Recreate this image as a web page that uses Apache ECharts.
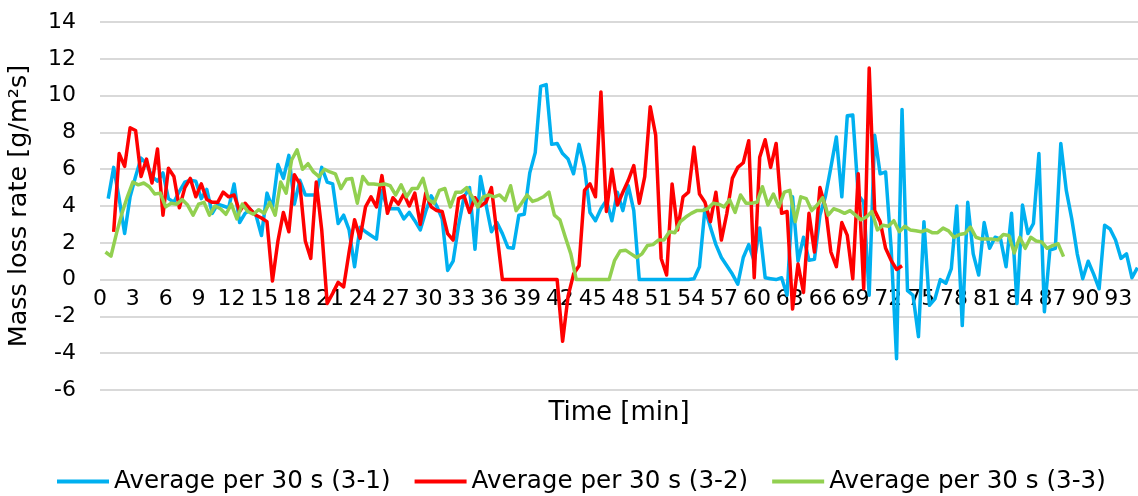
<!DOCTYPE html>
<html><head><meta charset="utf-8">
<script src="https://cdn.jsdelivr.net/npm/echarts@6/dist/echarts.min.js"></script>
<style>html,body{margin:0;padding:0;background:#fff}#c{width:1138px;height:496px}</style>
</head><body><div id="c"></div>
<script>
// Sampling: averages every 30 s (0.5 min)
const sampleStep = 0.5;
const start31 = 0.75;   // first sample time [min] of (3-1)
const start32 = 1.25;   // first sample time [min] of (3-2)
const start33 = 0.5;    // first sample time [min] of (3-3)

const seriesNames = ["Average per 30 s (3-1)", "Average per 30 s (3-2)", "Average per 30 s (3-3)"];

const rate31 = [
 4.4, 6.1, 4.4, 2.5, 4.5, 5.6, 6.6, 6.3, 5.6, 5.35,
 5.8, 4.4, 4.2, 4.8, 5.3, 5.4, 5.35, 4.4, 4.9, 3.6,
 4.1, 4.0, 3.9, 5.2, 3.1, 3.6, 3.8, 3.5, 2.4, 4.7,
 3.9, 6.25, 5.5, 6.75, 4.1, 5.4, 4.6, 4.6, 4.6, 6.1,
 5.3, 5.2, 3.05, 3.5, 2.7, 0.7, 2.85, 2.6, 2.4, 2.2,
 4.85, 3.85, 3.85, 3.85, 3.3, 3.65, 3.2, 2.7, 3.7, 4.55,
 4.0, 3.3, 0.5, 1.0, 2.95, 4.5, 5.0, 1.65, 5.6, 4.1,
 2.6, 3.1, 2.5, 1.75, 1.7, 3.5, 3.55, 5.8, 6.9, 10.5,
 10.6, 7.35, 7.4, 6.85, 6.55, 5.75, 7.35, 6.1, 3.65, 3.2,
 3.85, 4.3, 3.2, 4.75, 3.75, 5.1, 3.75, 0, 0, 0,
 0, 0, 0, 0, 0, 0, 0, 0.05, 0.7, 3.85,
 2.85, 1.9, 1.2, 0.75, 0.3, -0.25, 1.2, 1.9, 1.0, 2.8,
 0.1, 0.05, 0.0, 0.1, -0.85, 4.5, 1.0, 2.3, 1.05, 1.1,
 3.5, 4.5, 6.1, 7.75, 4.5, 8.9, 8.95, 4.6, 4.2, -0.85,
 7.85, 5.75, 5.85, 1.75, -4.3, 9.25, -0.6, -0.85, -3.1, 3.15,
 -1.4, -1.05, 0.0, -0.2, 0.6, 4.0, -2.5, 4.2, 1.4, 0.25,
 3.1, 1.7, 2.3, 2.2, 0.7, 3.6, -1.3, 4.05, 2.5, 3.05,
 6.85, -1.75, 1.6, 1.7, 7.4, 4.85, 3.3, 1.4, 0.05, 1.0,
 0.3, -0.5, 2.95, 2.75, 2.15, 1.15, 1.4, 0.1, 0.65
];

const rate32 = [
 2.6, 6.85, 6.15, 8.25, 8.1, 5.6, 6.55, 5.25, 7.1, 3.5,
 6.05, 5.6, 3.9, 5.0, 5.5, 4.5, 5.2, 4.35, 4.2, 4.2,
 4.75, 4.5, 4.6, 3.7, 4.15, 3.8, 3.5, 3.35, 3.15, -0.08,
 2.1, 3.65, 2.6, 5.7, 5.2, 2.1, 1.15, 5.3, 2.7, -1.3,
 -0.75, -0.15, -0.4, 1.5, 3.25, 2.25, 3.95, 4.5, 3.95, 5.65,
 3.6, 4.45, 4.1, 4.65, 4.0, 4.7, 3.0, 4.7, 3.95, 3.75,
 3.7, 2.5, 2.15, 4.4, 4.55, 3.65, 4.45, 4.0, 4.2, 5.0,
 2.5, 0, 0, 0, 0, 0, 0, 0, 0, 0,
 0, 0, -3.35, -0.9, 0.3, 0.75, 4.85, 5.2, 4.5, 10.2,
 3.7, 6.0, 4.05, 4.75, 5.4, 6.2, 4.15, 5.6, 9.4, 7.85,
 1.15, 0.25, 5.2, 2.7, 4.5, 4.75, 7.2, 4.65, 4.2, 3.15,
 4.75, 2.15, 3.6, 5.5, 6.1, 6.35, 7.55, 0.1, 6.65, 7.6,
 6.1, 7.4, 3.6, 3.7, -1.6, 0.85, -0.7, 3.6, 1.5, 5.0,
 3.95, 1.5, 0.7, 3.1, 2.4, 0.05, 5.75, -0.5, 11.5, 3.75,
 3.15, 1.7, 1.05, 0.55, 0.75
];

const rate33 = [
 1.5, 1.27, 2.5, 3.6, 4.5, 5.3, 5.15, 5.25, 5.05, 4.65,
 4.7, 3.95, 4.15, 4.1, 4.35, 4.05, 3.5, 4.1, 4.2, 3.5,
 4.0, 3.85, 3.55, 4.1, 3.3, 4.1, 3.7, 3.55, 3.8, 3.6,
 4.2, 3.5, 5.3, 4.7, 6.5, 7.05, 6.0, 6.3, 5.85, 5.6,
 6.0, 5.85, 5.75, 4.95, 5.45, 5.5, 4.15, 5.6, 5.2, 5.2,
 5.15, 5.2, 5.1, 4.6, 5.15, 4.5, 4.95, 4.95, 5.5, 4.35,
 4.15, 4.85, 4.95, 3.95, 4.75, 4.75, 5.0, 4.5, 3.95, 4.5,
 4.6, 4.5, 4.6, 4.3, 5.1, 3.75, 4.15, 4.6, 4.25, 4.35,
 4.5, 4.75, 3.5, 3.25, 2.3, 1.4, 0, 0, 0, 0,
 0, 0, 0, 1.05, 1.55, 1.6, 1.4, 1.2, 1.4, 1.85,
 1.9, 2.15, 2.15, 2.6, 2.55, 3.15, 3.4, 3.6, 3.75, 3.75,
 3.85, 4.15, 4.1, 3.95, 4.35, 3.65, 4.6, 4.15, 4.15, 4.2,
 5.05, 4.05, 4.65, 3.95, 4.75, 4.85, 3.15, 4.5, 4.4, 3.75,
 4.05, 4.45, 3.5, 3.85, 3.75, 3.6, 3.75, 3.5, 3.25, 3.4,
 3.7, 2.7, 2.95, 2.9, 3.2, 2.6, 2.9, 2.7, 2.65, 2.6,
 2.7, 2.55, 2.55, 2.8, 2.65, 2.3, 2.45, 2.5, 2.85, 2.3,
 2.2, 2.2, 2.2, 2.15, 2.45, 2.4, 1.45, 2.3, 1.7, 2.3,
 2.1, 2.05, 1.7, 1.85, 1.95, 1.25
];

// Axis settings
const xAxisMin = 0, xAxisMax = 94.8, xTickStep = 3;
const yAxisMin = -6, yAxisMax = 14, yTickStep = 2;

function toPairs(start, values) {
  return values.map((v, i) => [start + i * sampleStep, v]);
}

const FONT = 'DejaVu Sans';
const chart = echarts.init(document.getElementById('c'));
chart.setOption({
  animation: false,
  backgroundColor: '#ffffff',
  textStyle: { fontFamily: FONT },
  grid: { left: 100, right: 0, top: 22, bottom: 106, containLabel: false, outerBoundsMode: 'none' },
  xAxis: {
    type: 'value', min: xAxisMin, max: xAxisMax, interval: xTickStep,
    name: 'Time [min]', nameLocation: 'middle', nameGap: 10,
    nameTextStyle: { fontSize: 26, color: '#000', fontFamily: FONT },
    axisLine: { show: false, onZero: false },
    axisTick: { show: false },
    splitLine: { show: false },
    // tick labels sit just under the zero line, as in the original
    axisLabel: { fontSize: 22, color: '#000', margin: -102, showMaxLabel: false, fontFamily: FONT }
  },
  yAxis: {
    type: 'value', min: yAxisMin, max: yAxisMax, interval: yTickStep,
    name: 'Mass loss rate [g/m²s]', nameLocation: 'middle', nameGap: 68,
    nameTextStyle: { fontSize: 25.5, color: '#000', fontFamily: FONT },
    axisLine: { show: false }, axisTick: { show: false },
    splitLine: { show: true, lineStyle: { color: '#d9d9d9', width: 2 } },
    axisLabel: { fontSize: 22, color: '#000', margin: 24, fontFamily: FONT }
  },
  legend: {
    data: seriesNames, left: 57, top: 469, padding: 0, icon: 'rect',
    itemWidth: 52, itemHeight: 4, itemGap: 24,
    textStyle: { fontSize: 24.6, color: '#000', fontFamily: FONT }
  },
  series: [
    { name: seriesNames[0], type: 'line', data: toPairs(start31, rate31), showSymbol: false, symbol: 'none',
      color: '#00b0f0', lineStyle: { width: 3.5, color: '#00b0f0', join: 'round' } },
    { name: seriesNames[1], type: 'line', data: toPairs(start32, rate32), showSymbol: false, symbol: 'none',
      color: '#ff0000', lineStyle: { width: 3.5, color: '#ff0000', join: 'round' } },
    { name: seriesNames[2], type: 'line', data: toPairs(start33, rate33), showSymbol: false, symbol: 'none',
      color: '#92d050', lineStyle: { width: 3.5, color: '#92d050', join: 'round' } }
  ]
});
</script>
</body></html>
